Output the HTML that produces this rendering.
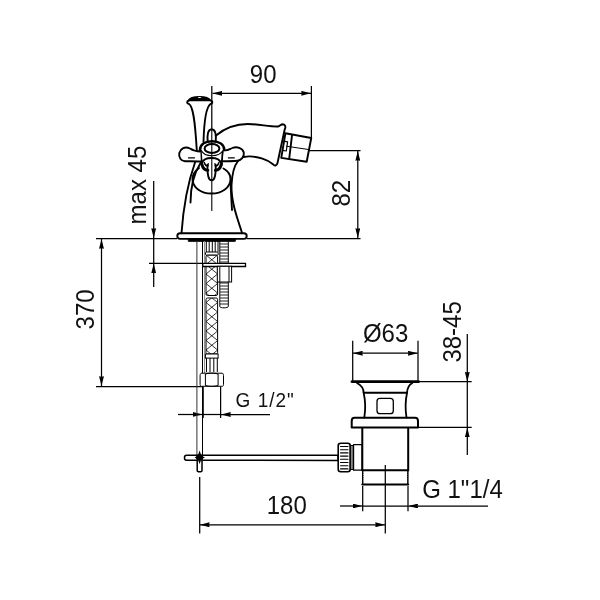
<!DOCTYPE html>
<html><head><meta charset="utf-8">
<style>
html,body{margin:0;padding:0;background:#fff;width:600px;height:600px;overflow:hidden}
svg{display:block;will-change:transform}
text{font-family:"Liberation Sans",sans-serif;fill:#111}
</style></head><body>
<svg width="600" height="600" viewBox="0 0 600 600">
<defs>
<marker id="ar" viewBox="0 0 10 5" refX="10" refY="2.5" markerWidth="9.8" markerHeight="4.9" markerUnits="userSpaceOnUse" orient="auto-start-reverse">
<path d="M0,0 L10,2.5 L0,5 L0.5,2.5 Z" fill="#000"/>
</marker>
</defs>
<rect width="600" height="600" fill="#fff"/>

<!-- ===== DIMENSIONS (thin) ===== -->
<g stroke="#000" stroke-width="1.25" fill="none">
  <!-- 90 -->
  <line x1="211.8" y1="86" x2="211.8" y2="128"/>
  <line x1="311.4" y1="86" x2="311.4" y2="137.5"/>
  <line x1="212.5" y1="93.3" x2="311" y2="93.3" marker-start="url(#ar)" marker-end="url(#ar)"/>
  <!-- 82 -->
  <line x1="309" y1="150.5" x2="360.5" y2="150.5"/>
  <line x1="96" y1="238.5" x2="177" y2="238.5"/>
  <line x1="246.5" y1="238.5" x2="360.5" y2="238.5"/>
  <line x1="357.8" y1="151" x2="357.8" y2="238" marker-start="url(#ar)" marker-end="url(#ar)"/>
  <!-- max 45 -->
  <line x1="153.7" y1="181" x2="153.7" y2="238" marker-end="url(#ar)"/>
  <line x1="153.7" y1="287" x2="153.7" y2="263.5" marker-end="url(#ar)"/>
  <line x1="153.7" y1="238" x2="153.7" y2="263.5"/>
  <line x1="149" y1="263.3" x2="203" y2="263.3"/>
  <!-- 370 -->
  <line x1="101.5" y1="239" x2="101.5" y2="386" marker-start="url(#ar)" marker-end="url(#ar)"/>
  <line x1="96" y1="386.7" x2="203" y2="386.7"/>
  <!-- G 1/2 -->
  <line x1="220.6" y1="387" x2="220.6" y2="418"/>
  <line x1="178" y1="414.5" x2="202.5" y2="414.5" marker-end="url(#ar)"/>
  <line x1="270" y1="414.5" x2="221" y2="414.5" marker-end="url(#ar)"/>
  <line x1="203" y1="414.5" x2="220.6" y2="414.5"/>
  <!-- 180 -->
  <line x1="199.7" y1="477" x2="199.7" y2="533.5"/>
  <line x1="385.3" y1="465" x2="385.3" y2="533.5"/>
  <line x1="199.8" y1="524.8" x2="385" y2="524.8" marker-start="url(#ar)" marker-end="url(#ar)"/>
  <!-- O63 -->
  <line x1="352.7" y1="340.7" x2="352.7" y2="381"/>
  <line x1="418" y1="340.7" x2="418" y2="381"/>
  <line x1="353" y1="353.2" x2="417.7" y2="353.2" marker-start="url(#ar)" marker-end="url(#ar)"/>
  <!-- 38-45 -->
  <line x1="418" y1="381.7" x2="471.7" y2="381.7"/>
  <line x1="418" y1="427.3" x2="471.7" y2="427.3"/>
  <line x1="467.3" y1="334" x2="467.3" y2="381.7" marker-end="url(#ar)"/>
  <line x1="467.3" y1="455" x2="467.3" y2="427.6" marker-end="url(#ar)"/>
  <line x1="467.3" y1="382" x2="467.3" y2="427.3"/>
  <!-- G 1 1/4 -->
  <line x1="362.7" y1="486" x2="362.7" y2="511.3"/>
  <line x1="408" y1="486" x2="408" y2="511.3"/>
  <line x1="340" y1="506" x2="362.4" y2="506" marker-end="url(#ar)"/>
  <line x1="488" y1="506" x2="408.3" y2="506" marker-end="url(#ar)"/>
  <line x1="362.7" y1="506" x2="408" y2="506"/>
</g>

<!-- ===== TEXT ===== -->
<text transform="translate(249.8,82.6) scale(1,1.06)" font-size="24">90</text>
<text transform="translate(146.4,224.4) rotate(-90) scale(1,1.06)" font-size="24">max 45</text>
<text transform="translate(350.4,206.5) rotate(-90) scale(1,1.06)" font-size="24">82</text>
<text transform="translate(94.2,329.4) rotate(-90) scale(1,1.06)" font-size="24">370</text>
<text transform="translate(266.7,513.8) scale(1,1.06)" font-size="24">180</text>
<text transform="translate(362.9,342.4) scale(1,1.06)" font-size="24">Ø63</text>
<text transform="translate(460.5,362.6) rotate(-90) scale(1,1.06)" font-size="24">38-45</text>
<text transform="translate(422.2,497.7) scale(1,1.06)" font-size="24">G 1"1/4</text>
<text transform="translate(235.6,407.4) scale(1,1.06)" font-size="19" letter-spacing="1">G 1/2"</text>

<!-- ===== FAUCET ===== -->
<g stroke="#000" stroke-width="1.9" fill="none" stroke-linecap="round" stroke-linejoin="round">
  <!-- base plate -->
  <rect x="177.3" y="233.3" width="69.4" height="5.6" rx="2.8" fill="#fff"/>
  <rect x="188.7" y="239" width="46.6" height="2.3" fill="#000" stroke-width="1"/>
  <!-- body outline -->
  <path d="M181.5,233.3 C183,212 186,188 195,162.5"/>
  <path d="M242,232.7 C236,215 231,200 231.5,185 C232,175 234,166 238,161"/>
  <!-- inner lines -->
  <path d="M190.5,202.5 C190.5,190 193,175 200.5,163"/>
  <path d="M232,210 C231.5,200 231,192 230.5,183"/>
  <!-- bulb ellipse -->
  <path d="M199,168 C195,171 192.5,175 192.5,179 C192.5,187.5 201,193.5 211.5,193.5 C222,193.5 230.5,187.5 230.5,179 C230.5,175 228,171 223.5,168.5"/>
  <!-- lever -->
  <path d="M188.5,100.4 C191,95.8 207.5,95.3 210.3,100.4 Z" fill="#000" stroke-width="1.5"/>
  <ellipse cx="199.6" cy="97.6" rx="1.8" ry="0.5" fill="#fff" stroke="none"/>
  <path d="M189,100.5 C186.5,101 186.5,103.5 189,104 C193,106 195,120 196.8,150.5"/>
  <path d="M210.5,100.5 C213,101 213,103.5 210.5,104 C206,107 204,125 203.5,141.5"/>
  <!-- upper tongue -->
  <path d="M207.7,141 C207.2,136 207.5,129.5 211.7,129.2 C215.9,129.5 216.2,136 215.7,141"/>
  <!-- hub -->
  <path d="M200.8,152 L201.9,165.3 M222.7,152 L221.6,165.3"/>
  <path d="M200,150.5 C200,144.5 205,141.3 212,141.3 C219,141.3 224.3,144.5 224.3,150.5" stroke-width="2.6" fill="#fff"/>
  <ellipse cx="212" cy="148.5" rx="7.4" ry="4.4" stroke-width="2"/>
  <path d="M201.3,150.5 C203,154 207,155.7 212,155.7 C217,155.7 221,154 223,150.5" stroke-width="1.1"/>
  <path d="M202,163 C203,159.5 207,158 211.5,158 C216,158 220,159.5 221,163"/>
  <path d="M201.9,164.3 C202.8,168.5 205.3,170.3 207.8,170.3" stroke-width="3"/>
  <path d="M221.3,164.3 C220.4,168.5 217.9,170.3 215.4,170.3" stroke-width="3"/>
  <path d="M204.3,162.5 C205,165 206.5,166.2 208,165.8" stroke-width="1.4"/>
  <path d="M218.9,162.5 C218.2,165 216.7,166.2 215.2,165.8" stroke-width="1.4"/>
  <!-- lower tongue -->
  <path d="M207.5,165 C207.3,175 208.5,180.3 211.6,180.3 C214.7,180.3 215.9,175 215.7,165"/>
  <path d="M207.6,166 L208.3,163.5 M215.6,166 L214.9,163.5" stroke-width="1.2"/>
  <!-- left arm -->
  <path d="M200.5,151.5 C197,151.5 193,150.5 190,148.5 C185,146 180.5,148.5 179.3,153 C178.5,157.5 181,161 185,161.2 C190,161.3 196,161.3 200.5,161.5" fill="#fff"/>
  <line x1="188.5" y1="157.8" x2="194.5" y2="157.8" stroke-width="1.3"/>
  <!-- right arm -->
  <path d="M224.3,150.3 C227,151 229,149.5 232.3,148 C237,146 242.5,148 243.8,152.5 C244.5,157 241,160.5 237.5,160.8 C233,161.2 227,161.3 222.7,161.3" fill="#fff"/>
  <line x1="228.3" y1="157.8" x2="234.3" y2="157.8" stroke-width="1.3"/>
  <!-- spout -->
  <path d="M216,135.5 C225,128 236,124 247.8,124 C258,124 270,126.8 278,126.5 C280,126 281,124.2 282.8,124.2 C285.5,124.3 285.8,127.5 284.8,129 L277.5,163 C276.8,166 274.5,166.2 273,164.2 C268,160 258,156.3 249,156.4 C247,156.5 245,156.8 243.6,157"/>
  <!-- aerator -->
  <path d="M285.4,133.3 L311.25,138 L306.7,161.7 L281.25,157.9 Z" fill="#fff"/>
  <path d="M292,135.4 L289.2,158.75"/>
  <path d="M286.7,146.25 L309.2,149.6" stroke-width="1"/>
  <path d="M283.8,141.2 L287.6,141.9 L286.3,151 L282.5,150.4" stroke-width="1.2"/>
  <!-- center line -->
  <line x1="211.8" y1="128" x2="211.8" y2="210.5" stroke-width="1.1"/>
</g>

<!-- ===== HOSES ===== -->
<defs>
<clipPath id="hc1"><rect x="206" y="255" width="11.6" height="40.5" rx="1.5"/></clipPath>
<clipPath id="hc2"><rect x="206" y="298" width="11.6" height="56" rx="1.5"/></clipPath>
</defs>
<g stroke="#000" stroke-width="1" fill="none">
  <!-- drain rod -->
  <line x1="196.9" y1="241" x2="196.9" y2="455" stroke="#333"/>
  <line x1="202.5" y1="241" x2="202.5" y2="373"/>
  <line x1="202.5" y1="386.7" x2="202.5" y2="455"/>
  <line x1="204.6" y1="241" x2="204.6" y2="373" stroke="#888"/>
  <!-- hose top fluted -->
  <path d="M206.3,241 L206.3,252 M209.2,241 L209.2,252 M212.3,241 L212.3,252 M215.2,241 L215.2,252 M218,241 L218,252"/>
  <rect x="205.5" y="252" width="12.7" height="3.2" rx="1"/>
  <!-- braid segments -->
  <rect x="206" y="255.2" width="11.6" height="40.3" rx="1.5" fill="#fff"/>
  <path d="M206,236.0 L217.6,245.5 M217.6,236.0 L206,245.5 M206,245.5 L217.6,255.0 M217.6,245.5 L206,255.0 M206,255.0 L217.6,264.5 M217.6,255.0 L206,264.5 M206,264.5 L217.6,274.0 M217.6,264.5 L206,274.0 M206,274.0 L217.6,283.5 M217.6,274.0 L206,283.5 M206,283.5 L217.6,293.0 M217.6,283.5 L206,293.0 M206,293.0 L217.6,302.5 M217.6,293.0 L206,302.5 M206,302.5 L217.6,312.0 M217.6,302.5 L206,312.0 M206,312.0 L217.6,321.5 M217.6,312.0 L206,321.5 M206,321.5 L217.6,331.0 M217.6,321.5 L206,331.0 M206,331.0 L217.6,340.5 M217.6,331.0 L206,340.5 M206,340.5 L217.6,350.0 M217.6,340.5 L206,350.0 M206,350.0 L217.6,359.5 M217.6,350.0 L206,359.5 M206,359.5 L217.6,369.0 M217.6,359.5 L206,369.0 M206,369.0 L217.6,378.5 M217.6,369.0 L206,378.5 M206,378.5 L217.6,388.0 M217.6,378.5 L206,388.0" clip-path="url(#hc1)" stroke-width="0.8"/>
  <rect x="206" y="298" width="11.6" height="56" rx="1.5" fill="#fff"/>
  <path d="M206,236.0 L217.6,245.5 M217.6,236.0 L206,245.5 M206,245.5 L217.6,255.0 M217.6,245.5 L206,255.0 M206,255.0 L217.6,264.5 M217.6,255.0 L206,264.5 M206,264.5 L217.6,274.0 M217.6,264.5 L206,274.0 M206,274.0 L217.6,283.5 M217.6,274.0 L206,283.5 M206,283.5 L217.6,293.0 M217.6,283.5 L206,293.0 M206,293.0 L217.6,302.5 M217.6,293.0 L206,302.5 M206,302.5 L217.6,312.0 M217.6,302.5 L206,312.0 M206,312.0 L217.6,321.5 M217.6,312.0 L206,321.5 M206,321.5 L217.6,331.0 M217.6,321.5 L206,331.0 M206,331.0 L217.6,340.5 M217.6,331.0 L206,340.5 M206,340.5 L217.6,350.0 M217.6,340.5 L206,350.0 M206,350.0 L217.6,359.5 M217.6,350.0 L206,359.5 M206,359.5 L217.6,369.0 M217.6,359.5 L206,369.0 M206,369.0 L217.6,378.5 M217.6,369.0 L206,378.5 M206,378.5 L217.6,388.0 M217.6,378.5 L206,388.0" clip-path="url(#hc2)" stroke-width="0.8"/>
  <!-- threaded rod -->
  <path d="M219.8,241 L219.8,306.5 C219.8,308.3 228.3,308.3 228.3,306.5 L228.3,241"/>
  <path d="M220,244.0 L228.3,244.0 M220,247.0 L228.3,247.0 M220,250.0 L228.3,250.0 M220,253.0 L228.3,253.0 M220,256.0 L228.3,256.0 M220,259.0 L228.3,259.0 M220,262.0 L228.3,262.0 M220,265.0 L228.3,265.0 M220,268.0 L228.3,268.0 M220,271.0 L228.3,271.0 M220,274.0 L228.3,274.0 M220,277.0 L228.3,277.0 M220,280.0 L228.3,280.0 M220,283.0 L228.3,283.0 M220,286.0 L228.3,286.0 M220,289.0 L228.3,289.0 M220,292.0 L228.3,292.0 M220,295.0 L228.3,295.0 M220,298.0 L228.3,298.0 M220,301.0 L228.3,301.0 M220,304.0 L228.3,304.0" stroke-width="1" stroke="#222"/>
  <!-- plate -->
  <path d="M202.7,263.3 L245.5,263.3 L245.5,266.5 L202.7,266.5 Z" fill="#fff" stroke-width="1.3"/>
  <!-- nut on rod -->
  <rect x="217.3" y="266.3" width="14.3" height="15.7" fill="#fff"/>
  <line x1="219.8" y1="266.3" x2="219.8" y2="282"/>
  <line x1="229" y1="266.3" x2="229" y2="282"/>
  <!-- hose bottom ferrule -->
  <rect x="205.4" y="354" width="12.7" height="4.1" fill="#fff"/>
  <path d="M206.5,358 L206.5,372 M210,358 L210,372 M213.8,358 L213.8,372 M217.3,358 L217.3,372"/>
  <!-- bottom nut -->
  <path d="M201.5,373.2 L222,373.2 C223.3,373.2 223.5,374.5 223.5,375.5 L223.5,384.5 C223.5,385.8 223,386.3 222,386.3 L201.5,386.3 C200.5,386.3 200.1,385.5 200.1,384.5 L200.1,375.5 C200.1,374.3 200.6,373.2 201.5,373.2 Z" fill="#fff"/>
  <path d="M205.4,374 C209,372.8 214,372.8 218.1,374 L218.1,385.5 C214,386.6 209,386.6 205.4,385.5 Z"/>
  <line x1="203" y1="386.7" x2="203" y2="418" stroke-width="1.6"/>
  <!-- lever rod -->
  <path d="M186.5,455.2 L338,455.3 L338,460.4 L186.5,460.3 C183.8,460.3 183.8,455.2 186.5,455.2 Z" stroke-width="1.5" fill="#fff"/>
  <path d="M197.2,460 L197.2,470.5 C197.2,472.3 202,472.3 202,470.5 L202,460" stroke-width="1.5" fill="#fff"/>
  <circle cx="199.6" cy="457.5" r="3.6" fill="#000" stroke="none"/>
  <path d="M199.6,450.5 L200.8,454 L198.4,454 Z M199.6,464 L200.8,461 L198.4,461 Z M194.5,457.5 L197,456.3 L197,458.7 Z M205,457.5 L202.2,456.3 L202.2,458.7 Z" fill="#000" stroke="none"/>
</g>

<!-- ===== DRAIN ===== -->
<g stroke="#000" stroke-width="1.8" fill="none" stroke-linejoin="round" stroke-linecap="round">
  <path d="M357,383 C361,385 363.5,388 363.7,393 C365.5,401 365.5,410 364.3,417.7"/>
  <path d="M412.3,383 C408.5,385 407.2,388 407,393 C405.3,401 405.3,410 406.5,417.7"/>
  <line x1="352" y1="381.7" x2="418.5" y2="381.7" stroke-width="2.8"/>
  <line x1="363.7" y1="392.8" x2="407" y2="392.8" stroke-width="2"/>
  <rect x="377" y="398.3" width="16.3" height="15.4" rx="3" stroke-width="1.3"/>
  <path d="M354.5,417.7 L415,417.7 C417,417.7 418,419 418,421 L418,427.5 L351.7,427.5 L351.7,421 C351.7,419 352.5,417.7 354.5,417.7 Z" stroke-width="2"/>
  <path d="M362.3,428 L362.3,470.2 M408.2,428 L408.2,470.2" stroke-width="2"/>
  <path d="M362.6,470.2 L362.6,484.5 M407.9,470.2 L407.9,484.5" stroke-width="1.3" stroke-dasharray="1.6,0.9"/>
  <line x1="362.3" y1="470.2" x2="408.2" y2="470.2" stroke-width="2"/>
  <line x1="362.3" y1="484.5" x2="408.2" y2="484.5" stroke-width="2"/>
  <path d="M362.2,472.0 L363.5,472.0 M407,472.0 L408.3,472.0 M362.2,473.8 L363.5,473.8 M407,473.8 L408.3,473.8 M362.2,475.6 L363.5,475.6 M407,475.6 L408.3,475.6 M362.2,477.4 L363.5,477.4 M407,477.4 L408.3,477.4 M362.2,479.2 L363.5,479.2 M407,479.2 L408.3,479.2 M362.2,481.0 L363.5,481.0 M407,481.0 L408.3,481.0 M362.2,482.8 L363.5,482.8 M407,482.8 L408.3,482.8" stroke-width="1" stroke-linecap="butt"/>
  <!-- knob -->
  <rect x="338.2" y="443.2" width="12" height="28.5" rx="2.5" stroke-width="1.6" fill="#fff"/>
  <path d="M340.5,446.5 L348,446.5 M340.5,449.7 L348,449.7 M340.5,452.9 L348,452.9 M340.5,456.1 L348,456.1 M340.5,459.3 L348,459.3 M340.5,462.5 L348,462.5 M340.5,465.7 L348,465.7 M340.5,468.9 L348,468.9" stroke-width="1.1"/>
  <rect x="350.3" y="445.5" width="3.2" height="24" stroke-width="1.2" fill="#888"/>
  <rect x="353.5" y="444.7" width="8.7" height="25.5" stroke-width="1.2"/>
</g>
</svg>
</body></html>
